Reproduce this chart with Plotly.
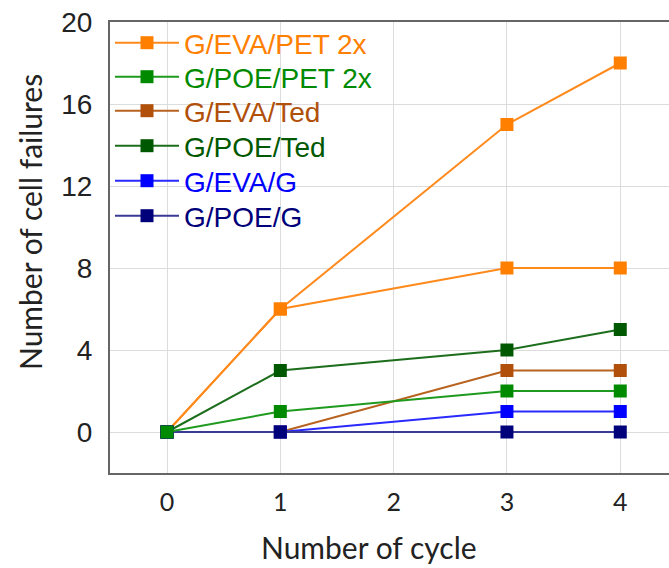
import plotly.graph_objects as go

cycles = [0, 1, 3, 4]
names = ["G/EVA/PET 2x", "G/POE/PET 2x", "G/EVA/Ted", "G/POE/Ted", "G/EVA/G", "G/POE/G"]
eva_pet = [0, 6, 15, 18]
poe_pet = [0, 1, 2, 2]
eva_ted = [0, 0, 3, 3]
poe_ted = [0, 3, 4, 5]
eva_g = [0, 0, 1, 1]
poe_g = [0, 0, 0, 0]
extra_orange = [0, 6, 8, 8]  # unlabelled orange series in the original

series = {
    "G/EVA/PET 2x": (eva_pet, "#ff8a1c", "#ff7f00"),
    "G/POE/PET 2x": (poe_pet, "#1e9a1e", "#008a00"),
    "G/EVA/Ted": (eva_ted, "#b8621f", "#b0500a"),
    "G/POE/Ted": (poe_ted, "#1c6e1c", "#005800"),
    "G/EVA/G": (eva_g, "#2a2aff", "#0000ff"),
    "G/POE/G": (poe_g, "#3a3a95", "#00007a"),
}
draw_order = ["G/EVA/PET 2x", "G/EVA/Ted", "G/POE/Ted", "G/EVA/G", "G/POE/G", "G/POE/PET 2x"]

H_PLOT = 451.0
BOTTOM = 473.0
legend_centres = [43, 77, 111, 146, 181, 216]

fig = go.Figure()
fig.add_trace(go.Scatter(x=cycles, y=extra_orange, mode="lines+markers", showlegend=False,
                         line=dict(color="#ff8a1c", width=2),
                         marker=dict(symbol="square", size=13, color="#ff7f00")))
for nm in draw_order:
    vals, lc, mc = series[nm]
    i = names.index(nm)
    fig.add_trace(go.Scatter(
        x=cycles, y=vals, mode="lines+markers",
        name=f'<span style="color:{mc}">{nm}</span>',
        legend="legend" if i == 0 else f"legend{i + 1}",
        line=dict(color=lc, width=2),
        marker=dict(symbol="square", size=13, color=mc),
    ))

legend_layout = {}
for i, yc in enumerate(legend_centres):
    key = "legend" if i == 0 else f"legend{i + 1}"
    legend_layout[key] = dict(
        x=0.0, y=(BOTTOM - yc) / H_PLOT, xanchor="left", yanchor="middle",
        bgcolor="rgba(0,0,0,0)", itemwidth=64,
        font=dict(family="Liberation Sans, Arial", size=28),
    )

fig.update_layout(
    width=669, height=568,
    margin=dict(l=110, r=0, t=22, b=95),
    plot_bgcolor="white", paper_bgcolor="white",
    showlegend=True,
    xaxis=dict(range=[-0.503, 4.43], tickvals=[0, 1, 2, 3, 4],
               showgrid=True, gridcolor="#dcdcdc", gridwidth=1,
               showline=True, linecolor="#666666", linewidth=2, mirror=True,
               zeroline=False, ticks="", ticklabelstandoff=6,
               tickfont=dict(family="Lato, Carlito", size=25, color="#222222")),
    yaxis=dict(range=[-2, 20], tickvals=[0, 4, 8, 12, 16, 20],
               showgrid=True, gridcolor="#dcdcdc", gridwidth=1,
               showline=True, linecolor="#666666", linewidth=2,
               zeroline=False, ticks="", ticklabelstandoff=10,
               tickfont=dict(family="Liberation Sans, Arial", size=28, color="#222222")),
    annotations=[
        dict(text="Number of cycle", xref="paper", yref="paper", x=(369 - 110) / 559, y=-(547 - 473) / H_PLOT,
             xanchor="center", yanchor="middle", showarrow=False,
             font=dict(family="Lato, Carlito", size=30, color="#222222")),
        dict(text="Number of cell failures", xref="paper", yref="paper", x=-(110 - 30) / 559,
             y=(BOTTOM - 222) / H_PLOT, xanchor="center", yanchor="middle", textangle=-90, showarrow=False,
             font=dict(family="Lato, Carlito", size=30, color="#222222")),
    ],
    **legend_layout,
)

fig.write_html("out.html")
